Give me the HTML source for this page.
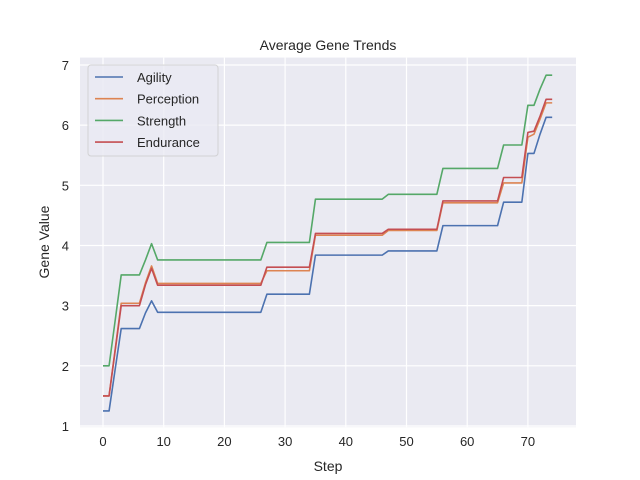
<!DOCTYPE html>
<html><head><meta charset="utf-8"><style>
body{margin:0;background:#fff;}
svg{display:block;font-family:"Liberation Sans","DejaVu Sans",sans-serif;}
</style></head><body>
<svg id="chart" width="640" height="480">
<rect x="0" y="0" width="640" height="480" fill="#fff"/>
<rect x="80" y="57.6" width="496" height="369.6" fill="#eaeaf2"/>
<g id="grid"></g>
<g id="series"></g>
<g id="ticks"></g>
<text x="328" y="50" text-anchor="middle" font-size="14" fill="#262626">Average Gene Trends</text>
<text x="328" y="471" text-anchor="middle" font-size="14" fill="#262626">Step</text>
<text transform="translate(49,242) rotate(-90)" text-anchor="middle" font-size="14" fill="#262626">Gene Value</text>
<g id="legend"></g>
</svg>
<script>
const xTicks=[0,10,20,30,40,50,60,70];
const yTicks=[1,2,3,4,5,6,7];
const seriesNames=["Agility","Perception","Strength","Endurance"];
const seriesColors=["#4c72b0","#dd8452","#55a868","#c44e52"];
const agility=[1.25,1.25,1.94,2.62,2.62,2.62,2.62,2.88,3.08,
2.89,2.89,2.89,2.89,2.89,2.89,2.89,2.89,2.89,2.89,2.89,2.89,2.89,2.89,2.89,2.89,2.89,2.89,
3.19,3.19,3.19,3.19,3.19,3.19,3.19,3.19,
3.84,3.84,3.84,3.84,3.84,3.84,3.84,3.84,3.84,3.84,3.84,3.84,
3.91,3.91,3.91,3.91,3.91,3.91,3.91,3.91,3.91,
4.33,4.33,4.33,4.33,4.33,4.33,4.33,4.33,4.33,4.33,
4.72,4.72,4.72,4.72,5.53,5.53,5.85,6.13,6.13];
const perception=[1.5,1.5,2.27,3.04,3.04,3.04,3.04,3.38,3.66,
3.37,3.37,3.37,3.37,3.37,3.37,3.37,3.37,3.37,3.37,3.37,3.37,3.37,3.37,3.37,3.37,3.37,3.37,
3.58,3.58,3.58,3.58,3.58,3.58,3.58,3.58,
4.17,4.17,4.17,4.17,4.17,4.17,4.17,4.17,4.17,4.17,4.17,4.17,
4.25,4.25,4.25,4.25,4.25,4.25,4.25,4.25,4.25,
4.71,4.71,4.71,4.71,4.71,4.71,4.71,4.71,4.71,4.71,
5.04,5.04,5.04,5.04,5.8,5.85,6.1,6.37,6.37];
const strength=[2.0,2.0,2.75,3.51,3.51,3.51,3.51,3.76,4.03,
3.76,3.76,3.76,3.76,3.76,3.76,3.76,3.76,3.76,3.76,3.76,3.76,3.76,3.76,3.76,3.76,3.76,3.76,
4.05,4.05,4.05,4.05,4.05,4.05,4.05,4.05,
4.77,4.77,4.77,4.77,4.77,4.77,4.77,4.77,4.77,4.77,4.77,4.77,
4.85,4.85,4.85,4.85,4.85,4.85,4.85,4.85,4.85,
5.28,5.28,5.28,5.28,5.28,5.28,5.28,5.28,5.28,5.28,
5.67,5.67,5.67,5.67,6.33,6.33,6.6,6.83,6.83];
const endurance=[1.5,1.5,2.25,3.0,3.0,3.0,3.0,3.35,3.62,
3.34,3.34,3.34,3.34,3.34,3.34,3.34,3.34,3.34,3.34,3.34,3.34,3.34,3.34,3.34,3.34,3.34,3.34,
3.64,3.64,3.64,3.64,3.64,3.64,3.64,3.64,
4.2,4.2,4.2,4.2,4.2,4.2,4.2,4.2,4.2,4.2,4.2,4.2,
4.27,4.27,4.27,4.27,4.27,4.27,4.27,4.27,4.27,
4.74,4.74,4.74,4.74,4.74,4.74,4.74,4.74,4.74,4.74,
5.13,5.13,5.13,5.13,5.88,5.9,6.15,6.43,6.43];

const NS="http://www.w3.org/2000/svg";
function xs(s){return 103+s*6.07;}
function ys(v){return 426-(v-1)*60.17;}
function mk(tag,attrs,parent){const e=document.createElementNS(NS,tag);for(const k in attrs)e.setAttribute(k,attrs[k]);parent.appendChild(e);return e;}
const grid=document.getElementById('grid'),ticks=document.getElementById('ticks'),ser=document.getElementById('series'),leg=document.getElementById('legend');
xTicks.forEach(t=>{
  const l=mk('line',{x1:xs(t),x2:xs(t),y1:57.6,y2:427.2,stroke:'#fff','stroke-width':1.2},grid);
  
  
  const tx=mk('text',{x:xs(t),y:446,'text-anchor':'middle','font-size':13,fill:'#262626'},ticks);
  tx.textContent=t;
  
  
});
yTicks.forEach(t=>{
  const l=mk('line',{x1:80,x2:576,y1:ys(t),y2:ys(t),stroke:'#fff','stroke-width':1.2},grid);
  
  
  const tx=mk('text',{x:69,y:ys(t)+5,'text-anchor':'end','font-size':13,fill:'#262626'},ticks);
  tx.textContent=t;
  
  
});
[agility,perception,strength,endurance].forEach((d,i)=>{
  const p=mk('polyline',{points:d.map((v,s)=>xs(s)+','+ys(v)).join(' '),fill:'none',stroke:seriesColors[i],'stroke-width':1.6,'stroke-linejoin':'round'},ser);
  
  
});
mk('rect',{x:88,y:65,width:130,height:91,rx:3,fill:'#eaeaf2',stroke:'#cccccc','stroke-opacity':0.8,'fill-opacity':0.8},leg);
seriesNames.forEach((n,i)=>{
  const y=77+i*21.7;
  const l=mk('line',{x1:95,x2:123,y1:y,y2:y,stroke:seriesColors[i],'stroke-width':1.6},leg);
  
  
  const t=mk('text',{x:137,y:y+5,'font-size':13,fill:'#262626'},leg);
  t.textContent=n;
  
  
});
</script>
</body></html>
